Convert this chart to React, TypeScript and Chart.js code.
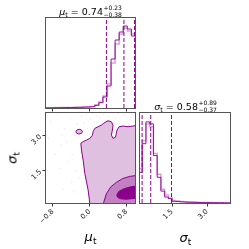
import React, { useEffect, useRef } from "react";
import { Chart, registerables } from "chart.js";

Chart.register(...registerables);

const FONT = "'DejaVu Sans', sans-serif";
const DARK = "#8b008b";
const HIST = "rgba(139,0,139,0.9)";
const PLUM = "#dda0dd";

// ---------- axis ranges & ticks ----------
const muRange = [-0.95, 0.98];
const sigmaRange = [0.12, 3.98];
const muTicks = [-0.8, 0.0, 0.8];
const sigmaTicks = [1.5, 3.0];

// ---------- 1-D marginal histograms ----------
const muBinStart = -0.9506;
const muBinWidth = 0.0882;
const muHist = [0.1, 0.2, 0.3, 0.3, 0.4, 0.5, 0.5, 0.6, 0.7, 0.9, 1.0, 1.3, 2.7, 5.3, 11, 22, 49, 68, 76, 82, 79, 72];
const muHistSmooth = [0.2, 0.2, 0.3, 0.4, 0.4, 0.5, 0.6, 0.7, 0.8, 0.9, 1.2, 1.6, 3, 6, 12, 24, 45, 64, 74, 80, 77, 74];
const muHistMax = 90;

const sigmaBinStart = 0.053;
const sigmaBinWidth = 0.1607;
const sigmaHist = [31, 60, 82, 80, 48, 26, 12, 6, 4.4, 1.7, 1.5, 1.2, 1.0, 0.8, 0.7, 0.6, 0.5, 0.4, 0.4, 0.3, 0.3, 0.2, 0.2, 0.1, 0.1];
const sigmaHistSmooth = [35, 63, 80, 77, 50, 29, 14, 8, 5, 2.5, 2, 1.6, 1.3, 1.1, 0.9, 0.8, 0.6, 0.5, 0.5, 0.4, 0.3, 0.3, 0.2, 0.2, 0.1];
const sigmaHistMax = 91;

// 16 / 50 / 84 % quantiles
const muQuantiles = [0.36, 0.74, 0.97];
const sigmaQuantiles = [0.21, 0.58, 1.47];

// ---------- 2-D contours [mu, sigma] ----------
const contourOuter = [
  [0.02, -0.2], [0.0, 0.12], [-0.037, 0.68], [-0.108, 1.39], [-0.145, 1.96], [-0.18, 2.39],
  [-0.195, 2.68], [-0.145, 2.75], [-0.071, 2.82], [0.0, 2.89], [0.058, 3.03], [0.071, 3.18],
  [0.108, 3.32], [0.18, 3.39], [0.253, 3.46], [0.303, 3.54], [0.346, 3.6], [0.396, 3.65],
  [0.469, 3.6], [0.504, 3.46], [0.49, 3.25], [0.469, 3.03], [0.504, 2.89], [0.556, 2.94],
  [0.577, 3.11], [0.59, 3.25], [0.634, 3.39], [0.72, 3.42], [0.828, 3.39], [0.936, 3.42],
  [1.1, 3.48], [1.1, -0.2], [0.02, -0.2],
];
const contourMiddle = [
  [0.27, -0.2], [0.292, 0.08], [0.357, 0.51], [0.454, 0.81], [0.573, 1.0], [0.714, 1.17],
  [0.865, 1.26], [1.016, 1.3], [1.1, 1.31], [1.1, -0.2], [0.27, -0.2],
];
const contourInner = [
  [0.584, 0.46], [0.627, 0.61], [0.714, 0.71], [0.822, 0.78], [0.93, 0.83], [1.1, 0.85],
  [1.1, 0.32], [0.93, 0.31], [0.8, 0.28], [0.67, 0.3], [0.605, 0.36], [0.584, 0.46],
];
const contourIsland = [
  [-0.304, 3.18], [-0.283, 3.25], [-0.232, 3.28], [-0.18, 3.25], [-0.16, 3.18],
  [-0.18, 3.11], [-0.232, 3.08], [-0.283, 3.11], [-0.304, 3.18],
];
const outlierMu = [-0.85, -0.7, -0.62, -0.55, -0.48, -0.42, -0.38, -0.33, -0.3, -0.27, -0.25, -0.22, -0.4, -0.18, -0.15, -0.12, -0.08, -0.05, 0.02, 0.05, 0.1, 0.15, 0.22, 0.3, 0.4, 0.55, 0.62, 0.75, 0.85, -0.65, -0.75, -0.58, -0.9, -0.5, -0.35, -0.2, -0.6];
const outlierSigma = [3.6, 3.9, 2.6, 3.3, 1.9, 3.75, 2.2, 3.05, 1.5, 3.5, 2.9, 1.2, 1.0, 3.85, 3.2, 3.55, 3.9, 3.3, 3.7, 3.95, 3.6, 3.85, 3.75, 3.9, 3.85, 3.75, 3.95, 3.9, 3.7, 1.6, 2.2, 0.7, 2.9, 2.75, 0.6, 2.3, 3.05];

// ---------- helpers ----------
const fmtTick = (v: number) => (v < 0 ? "\u2212" : "") + Math.abs(v).toFixed(1);

function stepData(start: number, width: number, heights: number[]) {
  const pts = [{ x: start, y: 0 }];
  heights.forEach((h, i) => pts.push({ x: start + i * width, y: h }));
  const end = start + heights.length * width;
  pts.push({ x: end, y: heights[heights.length - 1] });
  pts.push({ x: end, y: 0 });
  return pts;
}
const toXY = (poly: number[][]) => poly.map(([x, y]) => ({ x, y }));
const vline = (x: number, top: number) => [{ x, y: 0 }, { x, y: top }];

const framePlugin = {
  id: "frame",
  afterDatasetsDraw(chart: any) {
    const { ctx, chartArea: a } = chart;
    ctx.save();
    ctx.strokeStyle = "#555";
    ctx.lineWidth = 1;
    ctx.strokeRect(Math.round(a.left) - 0.5, Math.round(a.top) - 0.5, Math.round(a.right - a.left) + 1, Math.round(a.bottom - a.top) + 1);
    ctx.restore();
  },
};

const tickGrid = { display: true, drawOnChartArea: false, drawTicks: true, tickLength: 3.5, color: "#333", lineWidth: 1 };
const tickFont = { size: 7, family: FONT };

function baseOptions(padding: any, scales: any) {
  return {
    responsive: false,
    animation: false as const,
    events: [],
    layout: { padding },
    plugins: { legend: { display: false }, tooltip: { enabled: false }, title: { display: false } },
    scales,
  };
}

function muAxis(showLabels: boolean, height: number) {
  return {
    type: "linear",
    position: "bottom",
    min: muRange[0],
    max: muRange[1],
    bounds: "data",
    afterBuildTicks: (s: any) => { s.ticks = muTicks.map((v) => ({ value: v })); },
    afterFit: (s: any) => { s.height = height; },
    ticks: { display: showLabels, autoSkip: false, minRotation: 45, maxRotation: 45, font: tickFont, color: "#222", padding: 1, callback: (v: any) => fmtTick(Number(v)) },
    grid: tickGrid,
    border: { display: false },
  };
}
function sigmaAxis(position: string, size: number) {
  const horiz = position === "bottom";
  return {
    type: "linear",
    position,
    min: sigmaRange[0],
    max: sigmaRange[1],
    bounds: "data",
    afterBuildTicks: (s: any) => { s.ticks = sigmaTicks.map((v) => ({ value: v })); },
    afterFit: (s: any) => { if (horiz) s.height = size; else s.width = size; },
    ticks: { display: true, autoSkip: false, minRotation: 45, maxRotation: 45, font: tickFont, color: "#222", padding: horiz ? 1 : 2, callback: (v: any) => fmtTick(Number(v)) },
    grid: tickGrid,
    border: { display: false },
  };
}

const line = (data: any[], color: string, width: number, extra: any = {}) => ({
  type: "line", data, borderColor: color, borderWidth: width, pointRadius: 0, fill: false, tension: 0, ...extra,
});

function muHistConfig(): any {
  return {
    type: "line",
    data: {
      datasets: [
        ...muQuantiles.map((q) => line(vline(q, muHistMax), DARK, 1, { borderDash: [4, 2] })),
        line(stepData(muBinStart, muBinWidth, muHist), HIST, 1, { stepped: "before" }),
        line(stepData(muBinStart, muBinWidth, muHistSmooth), PLUM, 1.5, { stepped: "before" }),
      ],
    },
    options: baseOptions({ left: 46, top: 18, right: 114, bottom: 136 }, {
      x: muAxis(false, 5),
      y: { type: "linear", display: false, min: 0, max: muHistMax },
    }),
    plugins: [framePlugin],
  };
}

function jointConfig(): any {
  return {
    type: "line",
    data: {
      datasets: [
        line(toXY(contourIsland), DARK, 1, { fill: "shape", backgroundColor: "#e0c0e0" }),
        line(toXY(contourInner), DARK, 1, { fill: "shape", backgroundColor: DARK }),
        line(toXY(contourMiddle), DARK, 1, { fill: "shape", backgroundColor: "#c380c3" }),
        line(toXY(contourOuter), DARK, 1, { fill: "shape", backgroundColor: "#e0c0e0" }),
        {
          type: "scatter",
          data: outlierMu.map((m, i) => ({ x: m, y: outlierSigma[i] })),
          pointRadius: 0.6,
          backgroundColor: "rgba(225,170,225,0.4)",
          borderWidth: 0,
          showLine: false,
        },
      ],
    },
    options: baseOptions({ left: 26, top: 113, right: 114, bottom: 16 }, {
      x: muAxis(true, 30),
      y: sigmaAxis("left", 20),
    }),
    plugins: [framePlugin],
  };
}

function sigmaHistConfig(): any {
  return {
    type: "line",
    data: {
      datasets: [
        ...sigmaQuantiles.map((q) => line(vline(q, sigmaHistMax), DARK, 1, { borderDash: [4, 2] })),
        line(stepData(sigmaBinStart, sigmaBinWidth, sigmaHist), HIST, 1, { stepped: "before" }),
        line(stepData(sigmaBinStart, sigmaBinWidth, sigmaHistSmooth), PLUM, 1.5, { stepped: "before" }),
      ],
    },
    options: baseOptions({ left: 140, top: 113, right: 19, bottom: 16 }, {
      x: sigmaAxis("bottom", 30),
      y: { type: "linear", display: false, min: 0, max: sigmaHistMax },
    }),
    plugins: [framePlugin],
  };
}

function ChartCanvas({ make }: { make: () => any }) {
  const ref = useRef<HTMLCanvasElement | null>(null);
  useEffect(() => {
    if (!ref.current) return;
    const chart = new Chart(ref.current, make());
    return () => chart.destroy();
  }, [make]);
  return (
    <canvas
      ref={ref}
      width={249}
      height={249}
      style={{ position: "absolute", left: 0, top: 0, width: 249, height: 249 }}
    />
  );
}

function Title({ sym, q, cx, cy }: { sym: string; q: number[]; cx: number; cy: number }) {
  const med = q[1];
  const plus = q[2] - q[1];
  const minus = q[1] - q[0];
  return (
    <div
      style={{
        position: "absolute", left: cx, top: cy, transform: "translate(-50%,-50%)",
        fontFamily: FONT, fontSize: 9.5, whiteSpace: "nowrap", display: "flex", alignItems: "center", lineHeight: 1, color: "#000",
      }}
    >
      <span>
        <span style={{ fontStyle: "italic" }}>{sym}</span>
        <span style={{ fontSize: 6.5, position: "relative", top: 2 }}>t</span>
        {" = " + med.toFixed(2)}
      </span>
      <span style={{ display: "inline-flex", flexDirection: "column", fontSize: 6, lineHeight: "6.5px", marginLeft: 0.5 }}>
        <span>{"+" + plus.toFixed(2)}</span>
        <span>{"\u2212" + minus.toFixed(2)}</span>
      </span>
    </div>
  );
}

function AxisLabel({ sym, x, y, rot = 0 }: { sym: string; x: number; y: number; rot?: number }) {
  return (
    <div
      style={{
        position: "absolute", left: x, top: y, transform: `translate(-50%,-50%) rotate(${rot}deg)`,
        fontFamily: FONT, fontSize: 13, lineHeight: 1, whiteSpace: "nowrap", color: "#000",
      }}
    >
      <span style={{ fontStyle: "italic" }}>{sym}</span>
      <span style={{ fontSize: 9, position: "relative", top: 3 }}>t</span>
    </div>
  );
}

export default function App() {
  return (
    <div style={{ position: "fixed", left: 0, top: 0, width: 249, height: 249, background: "#fff", overflow: "hidden" }}>
      <ChartCanvas make={muHistConfig} />
      <ChartCanvas make={jointConfig} />
      <ChartCanvas make={sigmaHistConfig} />
      <Title sym="μ" q={muQuantiles} cx={90.5} cy={11} />
      <Title sym="σ" q={sigmaQuantiles} cx={185.5} cy={106} />
      <AxisLabel sym="μ" x={90.5} y={236} />
      <AxisLabel sym="σ" x={185.5} y={237} />
      <AxisLabel sym="σ" x={12} y={158} rot={-90} />
    </div>
  );
}
